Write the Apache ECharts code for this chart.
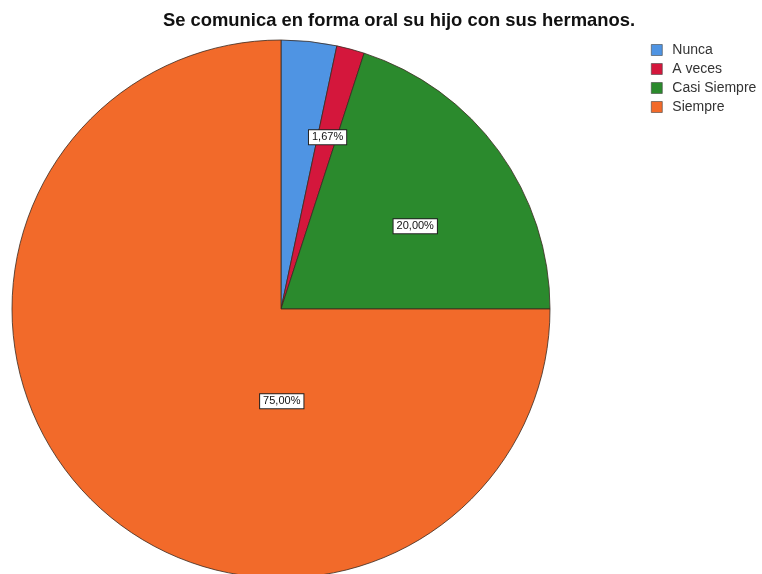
<!DOCTYPE html>
<html>
<head>
<meta charset="utf-8">
<script src="https://cdn.jsdelivr.net/npm/echarts@6/dist/echarts.min.js"></script>
<style>
  html, body { margin: 0; padding: 0; background: #fff; }
  #chart { width: 762px; height: 574px; }
</style>
</head>
<body>
<div id="chart"></div>
<script>
// datos de la gráfica
const categories = ['Nunca', 'A veces', 'Casi Siempre', 'Siempre']
const percents = [3.33, 1.67, 20.00, 75.00]
const colors = ['#4f94e3', '#d4173c', '#2b8a2d', '#f26a2a']
// desplazamiento de etiqueta (px) y visibilidad, como en el original
const labelOffsets = [[0, 0], [11, -39], [23, -2], [98, -5]]
const labelShown = [false, true, true, true]

const chart = echarts.init(document.getElementById('chart'))

const data = categories.map((name, i) => ({
    name: name,
    value: percents[i],
    itemStyle: { color: colors[i] },
    label: { show: labelShown[i], offset: labelOffsets[i] }
}))

const option = {
    animation: false,
    title: {
        text: 'Se comunica en forma oral su hijo con sus hermanos.',
        left: 394,
        textAlign: 'center',
        top: 7,
        textStyle: {
            fontFamily: 'Liberation Sans, Arial, sans-serif',
            fontSize: 18.4,
            fontWeight: 'bold',
            color: '#111'
        }
    },
    legend: {
        orient: 'vertical',
        left: 646,
        top: 38,
        itemWidth: 11,
        itemHeight: 11,
        itemGap: 5,
        icon: 'rect',
        data: categories,
        textStyle: {
            fontFamily: 'Liberation Sans, Arial, sans-serif',
            fontSize: 14,
            color: '#333',
            padding: [0, 0, 0, 5]
        },
        itemStyle: { borderColor: '#444', borderWidth: 0.6 }
    },
    series: [
        {
            type: 'pie',
            center: [281, 309],
            radius: [0, 269],
            startAngle: 90,
            clockwise: true,
            avoidLabelOverlap: false,
            data: data,
            itemStyle: {
                borderColor: '#3a2a20',
                borderWidth: 0.8
            },
            label: {
                position: 'inside',
                formatter: p => p.value.toFixed(2).replace('.', ',') + '%',
                fontFamily: 'Liberation Sans, Arial, sans-serif',
                fontSize: 11,
                color: '#111',
                backgroundColor: '#fff',
                borderColor: '#222',
                borderWidth: 1,
                padding: [2, 3, 1, 3]
            },
            labelLine: { show: false },
            emphasis: { disabled: true }
        }
    ]
}

chart.setOption(option)
</script>
</body>
</html>
